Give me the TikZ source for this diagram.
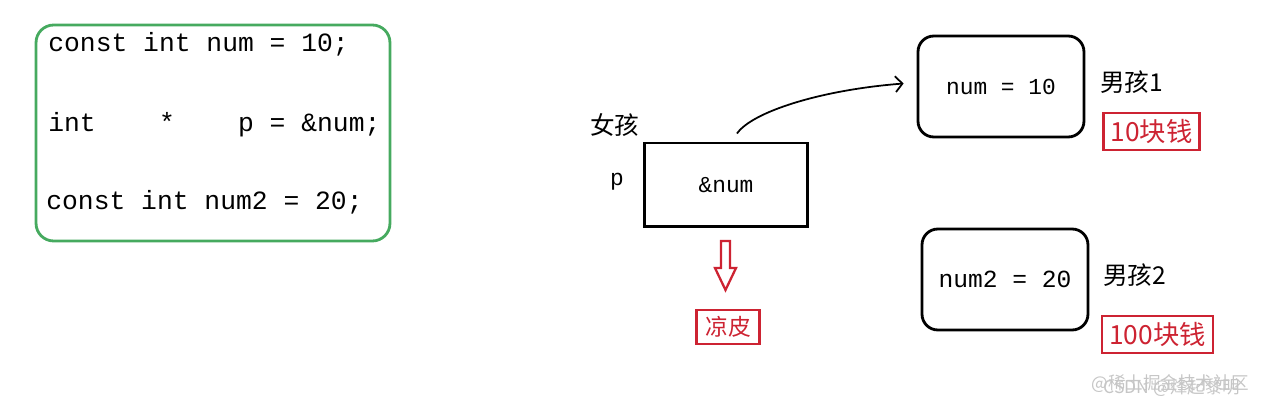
\documentclass[tikz,border=0pt]{standalone}
\usepackage{fontspec}
\setmonofont{Liberation Mono}
\newfontfamily\cjkfont{Noto Sans CJK SC}
\usetikzlibrary{positioning,calc,arrows.meta}

\definecolor{codegreen}{RGB}{70,170,95}
\definecolor{cnred}{RGB}{205,35,50}

\tikzset{
  codeline/.style={anchor=west,inner sep=0pt,font=\ttfamily\fontsize{15}{18}\selectfont},
  cell/.style={draw,line width=1.6pt,minimum width=3.32cm,minimum height=2.02cm,rounded corners=9pt},
  tag/.style={draw=cnred,text=cnred,line width=1.3pt,inner xsep=4pt,inner ysep=3.5pt,font=\cjkfont\fontsize{15}{17}\selectfont},
  boyname/.style={anchor=west,inner sep=0pt,font=\cjkfont\fontsize{14}{16}\selectfont}
}

\begin{document}
\begin{tikzpicture}[x=0.02cm,y=-0.02cm]
  \useasboundingbox (0,0) rectangle (1262,408);

  % code
  \node[draw=codegreen,line width=1.6pt,rounded corners=10pt,minimum width=7.08cm,minimum height=4.32cm] (frame) at (213,133) {};
  \node[codeline] (line1) at (48,44) {const int num = 10;};
  \node[codeline] (line2) at (48,125) {int\ \ \ \ *\ \ \ \ p = \&num;};
  \node[codeline] (line3) at (46,202) {const int num2 = 20;};

  % girl
  \node[draw,line width=1.7pt,minimum width=3.28cm,minimum height=1.68cm,font=\ttfamily\fontsize{13}{16}\selectfont] (pbox) at (726,185) {\&num};
  \node[boyname] (girl) at (590,125) {女孩};
  \node[font=\ttfamily\fontsize{13}{16}\selectfont] (pname) at (617,182) {p};
  \node[tag,font=\cjkfont\fontsize{13}{15}\selectfont,inner xsep=5pt] (food) at (728,327) {凉皮};
  \draw[cnred,line width=1.3pt,line join=miter]
    (721,241) -- (730,241) -- (730,268) -- (736,268) -- (725.5,290) -- (715,268) -- (721,268) -- cycle;

  % boys
  \node[cell,font=\ttfamily\fontsize{13}{16}\selectfont] (num) at (1001,86.5) {num = 10};
  \node[cell,font=\ttfamily\fontsize{14}{16}\selectfont] (numtwo) at (1005,279.5) {num2 = 20};
  \node[boyname] (boy1) at (1100,82) {男孩1};
  \node[boyname] (boy2) at (1103,275) {男孩2};
  \node[tag] (money1) at (1151.5,131.5) {10块钱};
  \node[tag] (money2) at (1157.5,334.5) {100块钱};

  \draw[-{Straight Barb[length=4pt,width=9pt]},line width=1pt] ($(pbox.north)+(11,-8)$) .. controls (752,112) and (820,90) .. ($(num.west)+(-13,-3)$);

  % watermark
  \node[gray!45,font=\cjkfont\fontsize{10}{12}\selectfont] (mark1) at (1170,384) {@稀土掘金技术社区};
  \node[gray!45,font=\cjkfont\fontsize{10}{12}\selectfont] (mark2) at (1172,388) {CSDN @烽起黎明};
\end{tikzpicture}
\end{document}
